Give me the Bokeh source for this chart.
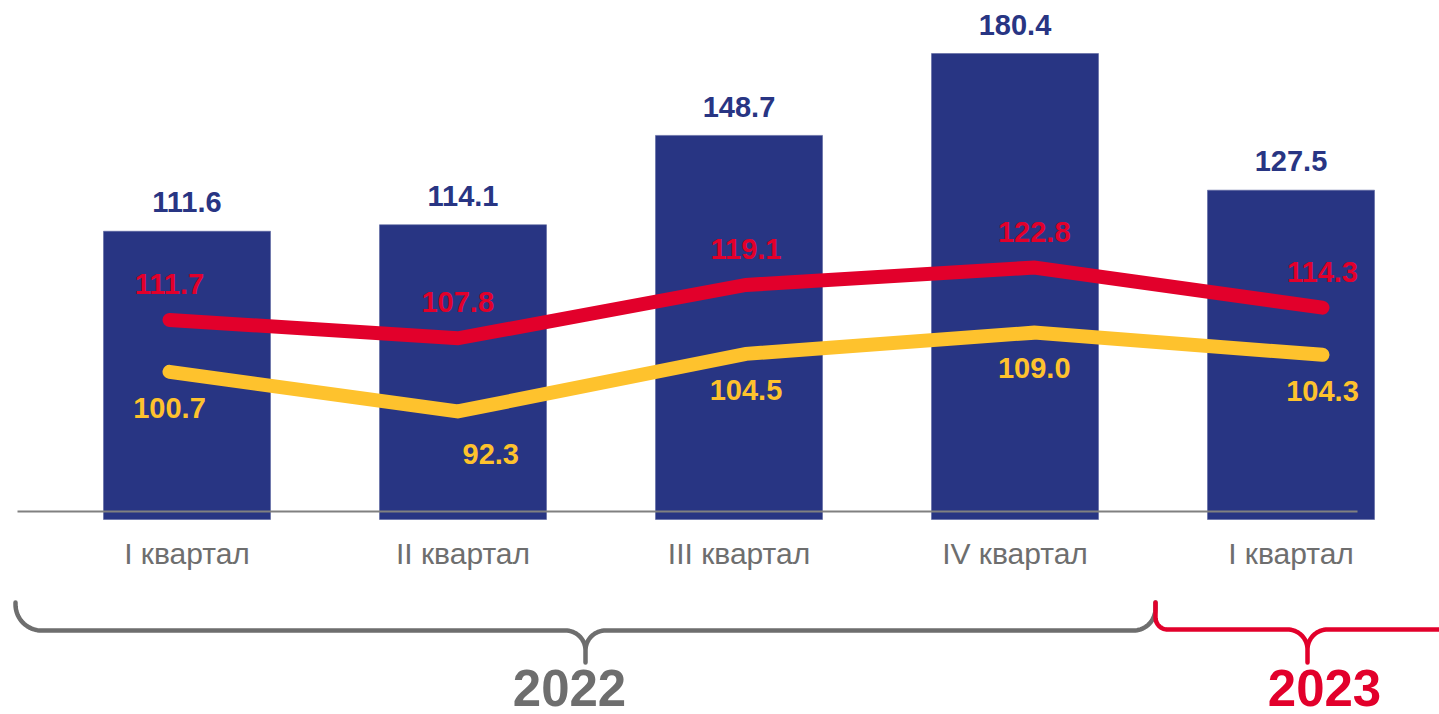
import numpy as np
from bokeh.plotting import figure
from bokeh.models import Range1d, ColumnDataSource
from bokeh.core.properties import value
from bokeh.embed import file_html
from bokeh.resources import INLINE

# ---------------- data ----------------
categories = ["I квартал", "II квартал", "III квартал", "IV квартал", "I квартал"]
bar_values = [111.6, 114.1, 148.7, 180.4, 127.5]
red_values = [111.7, 107.8, 119.1, 122.8, 114.3]
yellow_values = [100.7, 92.3, 104.5, 109.0, 104.3]
years = ["2022", "2023"]

# ---------------- style / layout ----------------
NAVY = "#283583"
RED = "#e2002b"
YELLOW = "#fec22d"
GRAY = "#6e6e6e"
FONT = "Liberation Sans"

W, H = 1439, 714
PX0, PY0 = 0, 0              # page offset of the figure
PX1, PY1 = PX0 + W, PY0 + H
BASE_FIX = 0.39              # empirical baseline correction (em)


def lin_range(a, b, lo, hi):
    """page = a + b*v ; return Range1d covering page pixels lo..hi"""
    v_lo = (lo - a) / b
    v_hi = (hi - a) / b
    return Range1d(min(v_lo, v_hi), max(v_lo, v_hi))


# primary (bars): x page = 186.5 + 276*i ; y page = 519 - 2.583*v
x_main = lin_range(186.5, 276.0, PX0, PX1)
y_main = lin_range(519.0, -2.583, PY0, PY1)
# secondary (lines): x page = 169 + 288.25*j ; y page = 319.4 - 4.72*(v-111.7)
x_line = lin_range(169.0, 288.25, PX0, PX1)
y_line = lin_range(319.4 + 4.72 * 111.7, -4.72, PY0, PY1)

p = figure(width=W, height=H, x_range=x_main, y_range=y_main,
           output_backend="svg", toolbar_location=None,
           x_axis_location=None, y_axis_location=None,
           min_border=0, outline_line_color=None, background_fill_color="white",
           border_fill_color="white")
p.grid.visible = False
p.extra_x_ranges = {"lx": x_line, "px": Range1d(PX0, PX1)}
p.extra_y_ranges = {"ly": y_line, "py": Range1d(PY1, PY0)}

VS = 29  # value-label font size
fix = BASE_FIX * VS

idx = list(range(len(categories)))
bars = ColumnDataSource(dict(x=idx, top=bar_values, lab=[f"{v:.1f}" for v in bar_values]))
reds = ColumnDataSource(dict(x=idx, y=red_values, lab=[f"{v:.1f}" for v in red_values]))
yel_xoff = [0, 33, 0, 0, 0]
yel_yoff = [47 - fix, 54 - fix, 47 - fix, 47 - fix, 47 - fix]
yels = ColumnDataSource(dict(x=idx, y=yellow_values, lab=[f"{v:.1f}" for v in yellow_values],
                             xo=yel_xoff, yo=yel_yoff))

# bars
p.vbar(x="x", top="top", bottom=0, width=167 / 276, source=bars,
       fill_color=NAVY, line_color="#5a64a0", line_width=0.6)

# category axis line (decoration, page pixels)
p.line(x=[17, 1357], y=[511, 511], x_range_name="px", y_range_name="py",
       line_color="#808080", line_width=2)

# lines
p.line(x="x", y="y", source=yels, x_range_name="lx", y_range_name="ly",
       line_color=YELLOW, line_width=14, line_cap="round", line_join="miter")
p.line(x="x", y="y", source=reds, x_range_name="lx", y_range_name="ly",
       line_color=RED, line_width=14, line_cap="round", line_join="miter")

# value labels
p.text(x="x", y="top", text="lab", source=bars, text_align="center",
       text_baseline="alphabetic", y_offset=-17.5 - fix, text_color=NAVY,
       text_font=value(FONT), text_font_style="bold", text_font_size=f"{VS}px")
p.text(x="x", y="y", text="lab", source=reds, x_range_name="lx", y_range_name="ly",
       text_align="center", text_baseline="alphabetic", y_offset=-24.5 - fix,
       text_color=RED, text_font=value(FONT), text_font_style="bold",
       text_font_size=f"{VS}px")
p.text(x="x", y="y", text="lab", source=yels, x_range_name="lx", y_range_name="ly",
       text_align="center", text_baseline="alphabetic", x_offset="xo", y_offset="yo",
       text_color=YELLOW, text_font=value(FONT), text_font_style="bold",
       text_font_size=f"{VS}px")

# category labels
CS = 30
cats = ColumnDataSource(dict(x=idx, y=[565 - BASE_FIX * CS] * len(idx), lab=categories))
p.text(x="x", y="y", text="lab", source=cats, y_range_name="py",
       text_align="center", text_baseline="alphabetic", text_color=GRAY,
       text_font=value(FONT), text_font_size=f"{CS}px")


# braces (decoration in page pixels)
def brace(x0, x1, ytop, ymid, ytip, rl, rr, r2):
    cx = (x0 + x1) / 2
    xs, ys = [x0], [ytop]
    t = np.linspace(np.pi, np.pi / 2, 20)
    xs += list(x0 + rl + rl * np.cos(t)); ys += list(ymid - rl + rl * np.sin(t))
    t = np.linspace(-np.pi / 2, 0, 20)
    xs += list(cx - r2 + r2 * np.cos(t)); ys += list(ymid + r2 + r2 * np.sin(t))
    xs += [cx, cx]; ys += [ytip, ymid + r2]
    t = np.linspace(np.pi, 3 * np.pi / 2, 20)
    xs += list(cx + r2 + r2 * np.cos(t)); ys += list(ymid + r2 + r2 * np.sin(t))
    t = np.linspace(np.pi / 2, 0, 20)
    xs += list(x1 - rr + rr * np.cos(t)); ys += list(ymid - rr + rr * np.sin(t))
    xs += [x1]; ys += [ytop]
    return xs, ys


bx, by = brace(15, 1155, 602, 630, 662, 26, 22, 20)
p.line(x=bx, y=by, x_range_name="px", y_range_name="py", line_color=GRAY,
       line_width=4.5, line_cap="round", line_join="round")
bx, by = brace(1155, 1459, 602, 629, 662, 12, 12, 20)
p.line(x=bx, y=by, x_range_name="px", y_range_name="py", line_color=RED,
       line_width=4.5, line_cap="round", line_join="round")

# year labels
YS = 51
yrs = ColumnDataSource(dict(x=[569, 1324], y=[707 - BASE_FIX * YS] * 2, lab=years, c=[GRAY, RED]))
p.text(x="x", y="y", text="lab", source=yrs, x_range_name="px", y_range_name="py",
       text_align="center", text_baseline="alphabetic", text_color="c",
       text_font=value(FONT), text_font_style="bold", text_font_size=f"{YS}px")

open("out.html", "w").write(file_html(p, INLINE))
